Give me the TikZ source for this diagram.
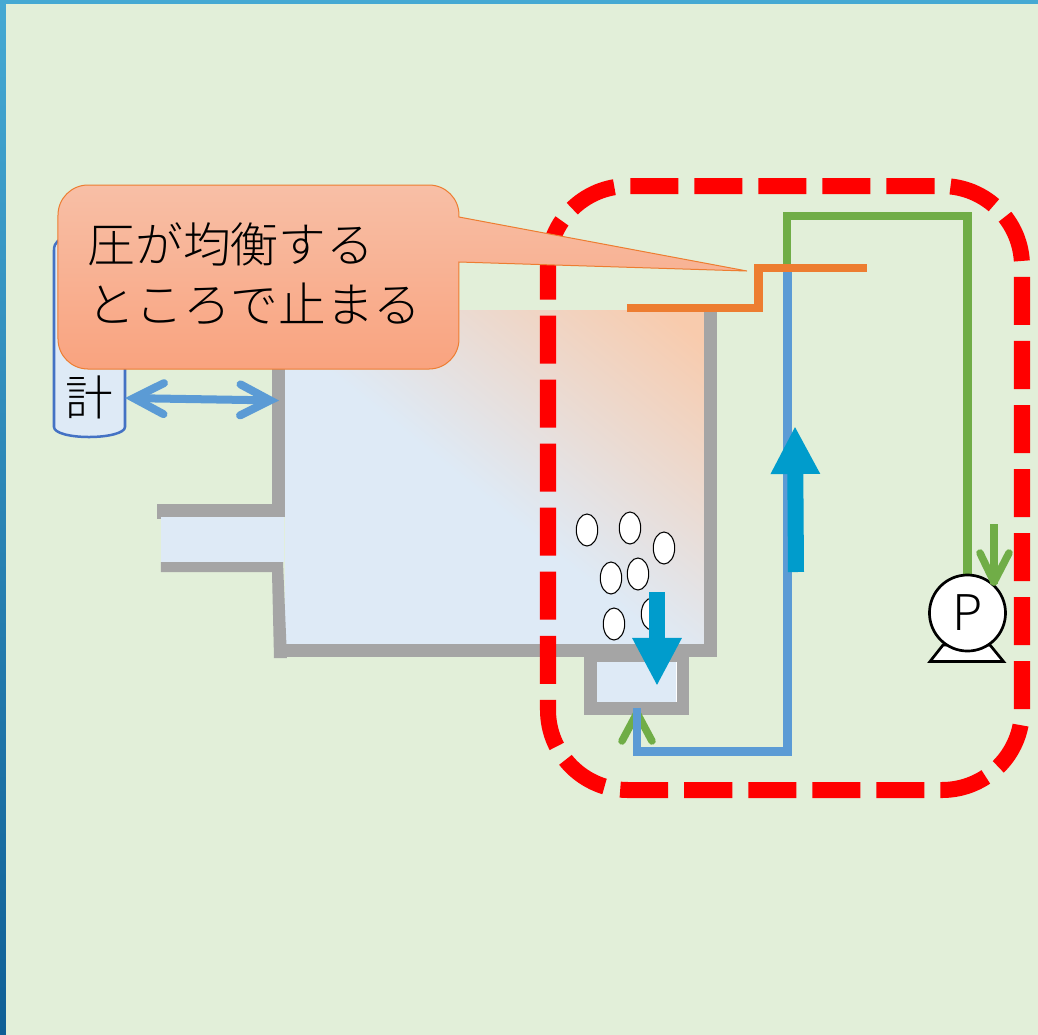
\documentclass[tikz,border=0pt]{standalone}
\usepackage{fontspec}
\usepackage{tikz}
\usetikzlibrary{arrows.meta}
\setmainfont{Noto Sans CJK JP}[UprightFont=* Light]

\definecolor{paneBg}{HTML}{E2EFD9}
\definecolor{paneTop}{HTML}{45A9D3}
\definecolor{paneLow}{HTML}{0F5F96}
\definecolor{wallGray}{HTML}{A5A5A5}
\definecolor{tankBlue}{HTML}{DEEAF6}
\definecolor{tankOrange}{HTML}{F8CBAD}
\definecolor{lineBlue}{HTML}{5B9BD5}
\definecolor{lineGreen}{HTML}{70AD47}
\definecolor{lineOrange}{HTML}{ED7D31}
\definecolor{flowBlue}{HTML}{009CCC}
\definecolor{gaugeEdge}{HTML}{4472C4}
\definecolor{calloutTop}{HTML}{F8BFA6}
\definecolor{calloutLow}{HTML}{F9A37F}

\pgfdeclarehorizontalshading{tankshade}{100bp}{color(0bp)=(tankBlue); color(47bp)=(tankBlue); color(82bp)=(tankOrange); color(100bp)=(tankOrange)}

\tikzset{
  wall/.style={line width=0.13cm,draw=wallGray,line cap=butt,line join=miter},
  pipe/.style={line width=0.085cm,line join=miter},
  barb/.style={line width=0.075cm,draw=#1,line cap=round,line join=round},
  flow/.style={line width=0.16cm,draw=flowBlue,-{Triangle[length=0.48cm,width=0.46cm,fill=flowBlue]}},
  bubble/.style={draw=black,line width=0.3pt,fill=white},
  label/.style={inner sep=0pt,text=black},
}

\begin{document}
\begin{tikzpicture}[x=0.01cm,y=-0.01cm]
    \useasboundingbox (0,0) rectangle (1038,1035);
\fill[paneBg] (0,0) rectangle (1038,1035); % Pane.0
\fill[paneTop] (0,0) rectangle (1038,4); % Pane.1
\shade[top color=paneTop,bottom color=paneLow] (0,0) rectangle (6,1035); % Pane.2
% gauge
\draw[draw=gaugeEdge,fill=tankBlue,line width=0.025cm] (54,250) .. controls (54,242) and (60,238) .. (66,238) -- (112,238) .. controls (120,238) and (125,242) .. (125,250) -- (125,427) .. controls (125,433) and (108,437) .. (89,437) .. controls (70,437) and (54,433) .. (54,427) -- cycle; % Gauge.0
\node[label,font=\fontsize{13.56}{13.56}\selectfont] (gaugetext) at (89,397) {計};
\coordinate (gaugeport) at (125,398);
\coordinate (tankport) at (279,400.5);
% tank
\shade[shading=tankshade,shading angle=51] (285,310) rectangle (705,645); % Tank.0
\fill[tankBlue] (161,516) rectangle (284,562); % Inlet.0
\draw[wall] (278.5,340) -- (278.5,510.5) -- (157,510.5); % Wall.0
\fill[wallGray] (157,516) rectangle (161,519); % Wall.4
\fill[wallGray] (161,562) -- (283,562) -- (287,658) -- (274,658) -- (272,572) -- (161,572) -- cycle; % Wall.1
\draw[wall] (274,650) -- (717,650) ; % Wall.2
\draw[wall] (710.5,305) -- (710.5,657) ; % Wall.3
\foreach \bx/\by in {587/530,630/528,664/548,611/578,638/574,614/624,652/614}
  \draw[bubble] (\bx,\by) ellipse (10.7 and 16); % Bubble
% drain
\fill[wallGray] (584,650) rectangle (689,715); % Drain.0
\fill[white] (597,662) rectangle (677,702); % Drain.1
\fill[tankBlue] (597,662) rectangle (676,702); % Drain.2
% loop
\draw[barb=lineGreen] (622,741) -- (637,713) -- (652,741); % ReturnHead
\coordinate (loopa) at (787.5,272);
\coordinate (loopb) at (787.5,751.5);
\coordinate (loopc) at (637,751.5);
\coordinate (loopd) at (637,708);
\draw[pipe,draw=lineBlue] (loopa) -- (loopb) -- (loopc) -- (loopd); % BlueLine
\coordinate (feeda) at (787,268);
\coordinate (feedb) at (787,216);
\coordinate (feedc) at (967.5,216);
\coordinate (feedd) at (967.5,580);
\draw[pipe,line width=0.08cm,draw=lineGreen] (feeda) -- (feedb) -- (feedc) -- (feedd); % GreenLine
\draw[line width=0.08cm,draw=lineOrange,line join=miter] (627,308) -- (758.5,308) -- (758.5,268) -- (867,268); % Level
% flow arrows
\coordinate (upfrom) at (796,572);
\coordinate (upto) at (795,426);
\draw[flow] (upfrom) -- (upto); % FlowUp
\coordinate (downfrom) at (657,592);
\coordinate (downto) at (657,686);
\draw[flow] (downfrom) -- (downto); % FlowDown
% pump
\draw[fill=white,line width=0.027cm,line join=miter] (943,645) -- (930,661.5) -- (1003.5,661.5) -- (990,645) -- cycle; % PumpBase
\node[circle,draw=black,fill=white,line width=0.027cm,minimum size=0.76cm,inner sep=0pt,font=\fontsize{14}{14}\selectfont] (pump) at (967.5,613) {P};
\draw[line width=0.075cm,draw=lineGreen] (994,524) -- (994,584); % PumpHead
\draw[barb=lineGreen] (980,553) -- (994,582) -- (1009,553); % PumpHead
% double arrow
\draw[line width=0.08cm,draw=lineBlue,{Straight Barb[length=0.3cm,width=0.31cm,line cap=round]}-{Straight Barb[length=0.3cm,width=0.31cm,line cap=round]}] (gaugeport) -- (tankport);
% red frame
\draw[draw=red,line width=0.16cm,dash pattern=on 0.48cm off 0.16cm,rounded corners=0.8cm] (548,266) -- (548,186) -- (1022,186) -- (1022,790) -- (548,790) -- (548,266); % Frame
% callout
\shade[top color=calloutTop,bottom color=calloutLow,draw=lineOrange,line width=0.01cm] (459,262) [rounded corners=0.3cm] -- (459,369) -- (58,369) -- (58,185) -- (459,185) [sharp corners] -- (459,217) -- (747,271) -- cycle; % Callout
\node[label,align=left,anchor=north west,font=\fontsize{13.56}{17}\selectfont] (callouttext) at (87,222) {圧が均衡する\\[0pt]ところで止まる};

    \end{tikzpicture}
\end{document}
